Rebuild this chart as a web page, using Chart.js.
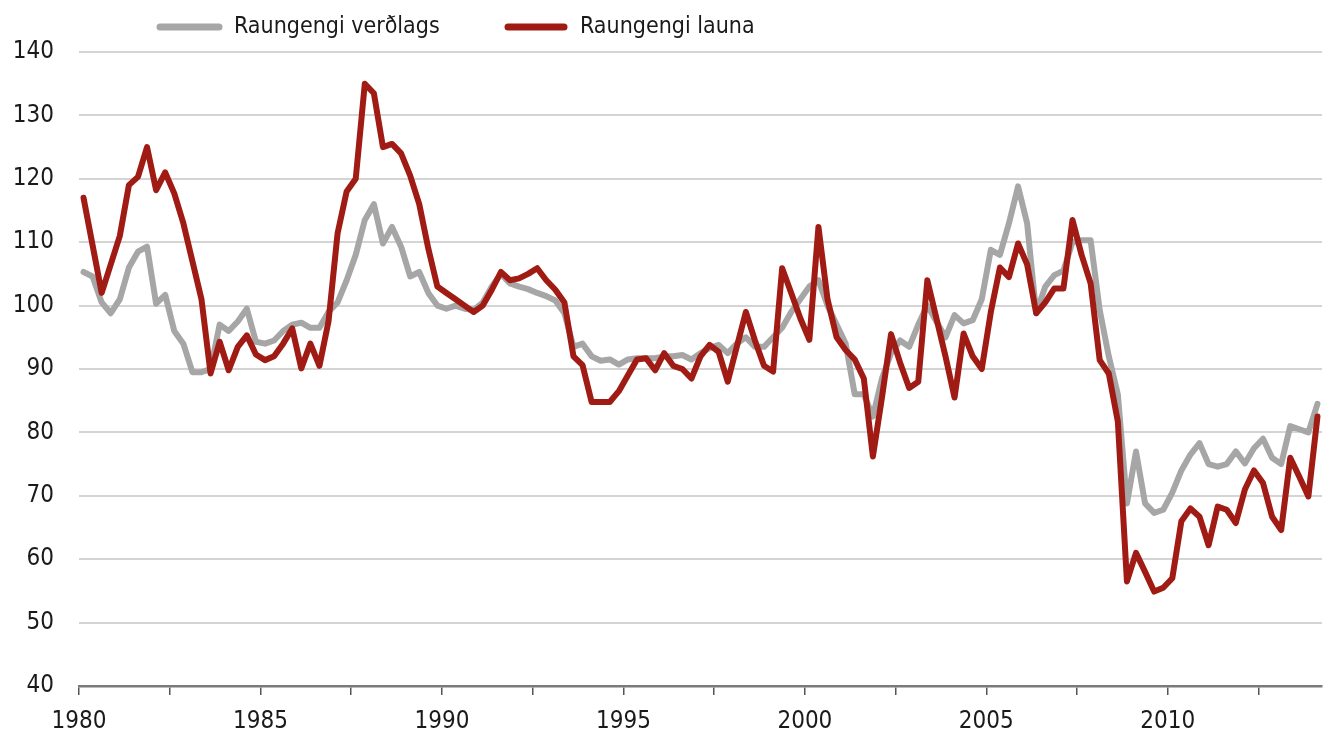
<!DOCTYPE html>
<html><head><meta charset="utf-8">
<script src="https://cdn.jsdelivr.net/npm/chart.js@4.4.1/dist/chart.umd.min.js"></script>
<style>html,body{margin:0;padding:0;background:#fff;overflow:hidden}canvas{display:block}</style>
</head><body>
<canvas id="c" width="1324" height="735"></canvas>
<script>
// ---- data ----
const seriesNames = ['Raungengi verðlags', 'Raungengi launa'];
const yearTicks = ['1980', '1985', '1990', '1995', '2000', '2005', '2010'];
const firstYear = 1980;
const nQuarters = 137; // 1980 Q1 .. 2014 Q1
const categories = [];
for (let i = 0; i < nQuarters; i++) categories.push((firstYear + Math.floor(i / 4)) + ' Q' + (i % 4 + 1));

const raungengiVerdlags = [
  105.3,104.6,100.5,98.8,101,106,108.5,109.3,100.3,101.7,
  96,94,89.5,89.5,90,97,96,97.5,99.5,94.3,
  94,94.5,96,97,97.3,96.5,96.5,99,100.5,104,
  108,113.5,116,109.8,112.4,109.3,104.6,105.3,102,100,
  99.5,100,99.5,99.3,100.5,103,105,103.5,103,102.6,
  102,101.5,100.8,98.8,93.5,94,92,91.3,91.5,90.7,
  91.5,91.7,91.7,91.7,92,92,92.2,91.5,92.5,93.3,
  93.8,92.5,94,95,93.5,93.5,95,96.5,99,101,
  103,104,100,97,94,86,86,82.5,88.5,92.5,
  94.5,93.5,97,100,97.5,95,98.5,97.2,97.7,101,
  108.8,108,113,118.8,113,98.8,103,104.8,105.5,110,
  110.3,110.3,99.3,92,86,68.8,77,68.8,67.3,67.8,
  70.5,74,76.5,78.3,75,74.6,75,77,75.1,77.5,
  79,76,75,81,80.5,80,84.5
];
const raungengiLauna = [
  117,109.5,102,106.5,111,119,120.3,125,118.2,121,
  117.7,113,107,101,89.3,94.3,89.8,93.5,95.3,92.3,
  91.4,92,94,96.4,90.1,94,90.5,97.5,111.4,118,
  120,135,133.5,125,125.5,124,120.5,116,109,103,
  102,101,100,99,100,102.5,105.3,104,104.3,105,
  105.9,104,102.5,100.5,92,90.6,84.8,84.8,84.8,86.5,
  89,91.5,91.7,89.8,92.5,90.5,90,88.5,92,93.8,
  92.7,88,93.5,99,94.5,90.5,89.6,105.9,102,98,
  94.6,112.4,101,95,93,91.5,88.5,76.2,85.5,95.5,
  91,87,88,104,98,92,85.5,95.6,92,90,
  99,106,104.5,109.8,106.5,98.8,100.5,102.7,102.7,113.5,
  108,103.5,91.4,89.3,81.7,56.5,61,58,54.9,55.5,
  57,66,68,66.7,62.2,68.3,67.8,65.7,71,74,
  72,66.7,64.6,76,73,69.9,82.5
];

// ---- styles ----
const FONT = '"DejaVu Sans Condensed", "Liberation Sans Narrow", sans-serif';
const GRAY = '#a6a6a6';
const RED = '#a01b13';

const legendPlugin = {
  id: 'customLegend',
  afterDraw(chart, args, opts) {
    const ctx = chart.ctx;
    ctx.save();
    ctx.font = '23px ' + FONT;
    ctx.textBaseline = 'middle';
    ctx.textAlign = 'left';
    chart.data.datasets.forEach((ds, i) => {
      const p = opts.items[i];
      ctx.strokeStyle = ds.borderColor;
      ctx.lineWidth = 7;
      ctx.lineCap = 'round';
      ctx.beginPath();
      ctx.moveTo(p.x1, opts.y);
      ctx.lineTo(p.x2, opts.y);
      ctx.stroke();
      ctx.fillStyle = '#1a1a1a';
      ctx.fillText(ds.label, p.tx, opts.y);
    });
    ctx.restore();
  }
};

new Chart(document.getElementById('c'), {
  type: 'line',
  data: {
    labels: categories,
    datasets: [
      { label: seriesNames[0], data: raungengiVerdlags, borderColor: GRAY, backgroundColor: GRAY, borderWidth: 6, pointRadius: 0, tension: 0, order: 1, borderJoinStyle: 'round', borderCapStyle: 'round' },
      { label: seriesNames[1], data: raungengiLauna, borderColor: RED, backgroundColor: RED, borderWidth: 6, pointRadius: 0, tension: 0, order: 0, borderJoinStyle: 'round', borderCapStyle: 'round' }
    ]
  },
  options: {
    responsive: false,
    animation: false,
    devicePixelRatio: 1,
    layout: { padding: { top: 52, right: 2, left: 0, bottom: 0 } },
    plugins: {
      legend: { display: false },
      tooltip: { enabled: false },
      customLegend: { y: 27, items: [ { x1: 160, x2: 219, tx: 234 }, { x1: 508, x2: 564, tx: 580 } ] }
    },
    scales: {
      x: {
        type: 'category',
        offset: true,
        afterFit: s => { s.height = 49; s.paddingRight = 0; s.paddingLeft = 0; },
        border: { display: true, color: '#7a7a7a', width: 2.5 },
        grid: {
          offset: true,
          drawOnChartArea: false,
          drawTicks: true,
          tickLength: 9,
          lineWidth: 1.5,
          color: c => (c.index !== undefined && c.index % 10 === 0) ? '#555' : 'rgba(0,0,0,0)'
        },
        ticks: {
          autoSkip: false,
          maxRotation: 0,
          minRotation: 0,
          padding: 12,
          labelOffset: -4.5,
          color: '#1a1a1a',
          font: { family: FONT, size: 24 },
          callback: (v, i) => (i % 20 === 0 && yearTicks[i / 20] !== undefined) ? yearTicks[i / 20] : ''
        }
      },
      y: {
        min: 40,
        max: 140,
        afterFit: s => { s.width = 79; },
        border: { display: false },
        grid: {
          drawTicks: false,
          lineWidth: 2,
          color: c => (c.tick && c.tick.value === 40) ? 'rgba(0,0,0,0)' : '#d4d4d4'
        },
        ticks: {
          stepSize: 10,
          padding: 25,
          color: '#1a1a1a',
          font: { family: FONT, size: 24 }
        }
      }
    }
  },
  plugins: [legendPlugin]
});
</script>
</body></html>
